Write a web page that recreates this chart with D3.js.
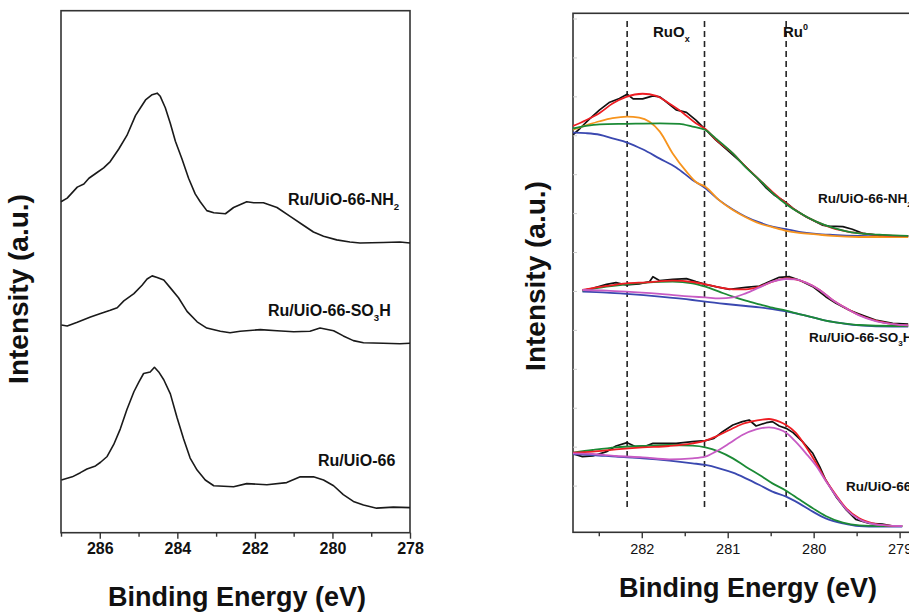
<!DOCTYPE html>
<html><head><meta charset="utf-8">
<script src="https://cdn.jsdelivr.net/npm/d3@7"></script>
<style>
html,body{margin:0;padding:0;background:#fff;}
svg{display:block;font-family:"Liberation Sans",Arial,Helvetica,sans-serif;}
</style></head>
<body>
<svg id="chart" width="909" height="614"></svg>
<script>
// ---------------- DATA ----------------
// Left panel: survey region (Binding energy eV, intensity a.u.)
const leftTicks = [286, 284, 282, 280, 278];
const leftMinor = [287, 285, 283, 281, 279];
const leftNH2 = [[287.0,63.4],[286.84,64.1],[286.58,66.2],[286.41,66.8],[286.28,67.9],[286.07,69.0],[285.90,69.9],[285.73,71.1],[285.51,73.5],[285.30,76.1],[285.08,79.9],[284.95,81.4],[284.82,82.9],[284.65,83.9],[284.52,84.2],[284.44,83.6],[284.31,81.4],[284.18,78.4],[284.05,75.0],[283.88,71.6],[283.71,67.9],[283.54,64.9],[283.41,63.4],[283.24,61.7],[283.06,61.3],[282.76,61.1],[282.55,62.3],[282.21,63.4],[282.03,63.2],[281.78,63.2],[281.43,62.3],[281.09,60.6],[280.75,58.9],[280.49,57.6],[280.23,56.8],[279.89,56.1],[279.55,55.7],[279.29,55.5],[278.69,55.6],[278.26,55.7],[278.0,55.5]];
const leftSO3H = [[286.99,39.8],[286.84,39.6],[286.58,40.3],[286.24,41.3],[285.98,42.0],[285.73,42.6],[285.55,43.1],[285.38,44.4],[285.12,45.8],[284.91,47.4],[284.78,48.6],[284.65,49.2],[284.52,48.9],[284.35,48.4],[284.18,46.9],[283.97,45.0],[283.75,42.4],[283.49,40.4],[283.24,39.2],[282.89,38.6],[282.64,38.3],[282.38,38.6],[281.86,38.9],[281.43,38.7],[281.00,38.5],[280.58,38.6],[280.32,39.2],[279.97,38.7],[279.72,37.7],[279.46,36.8],[279.20,36.4],[278.69,36.3],[278.26,36.2],[278.0,36.3]];
const leftUiO = [[286.99,10.1],[286.71,10.7],[286.50,11.5],[286.33,12.2],[286.11,12.8],[285.98,13.5],[285.81,14.6],[285.64,16.9],[285.47,19.9],[285.30,23.6],[285.12,27.0],[284.99,28.9],[284.87,30.5],[284.70,30.8],[284.59,31.7],[284.48,30.8],[284.35,29.3],[284.18,26.6],[284.01,22.1],[283.84,18.0],[283.67,14.3],[283.49,12.0],[283.28,10.1],[283.06,9.0],[282.55,8.8],[282.21,9.4],[281.69,9.2],[281.18,9.6],[280.83,10.7],[280.49,10.7],[280.23,10.1],[279.97,9.0],[279.72,7.3],[279.46,6.0],[279.20,5.3],[278.86,4.7],[278.43,4.9],[278.0,4.8]];

// Right panel: Ru 3d5/2 deconvolution
const rightTicks = [282, 281, 280, 279];
const rightMinor = [282.5, 281.5, 280.5, 279.5];
const refLines = [282.17, 281.27, 280.32];
const refLineSpan = [4.5, 98.5];

const nh2Raw = [[282.80,76.6],[282.72,77.8],[282.61,79.6],[282.49,81.4],[282.38,82.8],[282.26,83.6],[282.17,84.4],[282.10,83.5],[281.99,83.5],[281.87,84.1],[281.79,83.9],[281.72,83.0],[281.60,81.4],[281.48,80.9],[281.37,79.4],[281.27,77.8],[281.14,75.6],[280.98,73.3],[280.83,71.1],[280.67,68.5],[280.55,66.3],[280.46,65.0],[280.36,64.0],[280.32,63.5],[280.24,62.4],[280.09,60.8],[279.90,59.2],[279.82,59.0],[279.66,58.9],[279.55,58.4],[279.43,57.6],[279.28,57.3],[279.08,57.1],[278.90,57.1]];
const nh2Env = [[282.80,78.3],[282.65,79.4],[282.49,80.8],[282.34,82.6],[282.18,83.9],[281.99,84.5],[281.83,84.1],[281.68,82.6],[281.52,80.8],[281.37,78.8],[281.26,77.7],[281.14,75.7],[280.94,73.0],[280.79,70.4],[280.63,67.9],[280.48,65.6],[280.32,63.4],[280.17,61.6],[279.97,59.85],[279.78,58.6],[279.59,57.9],[279.39,57.5],[279.20,57.2],[278.90,57.1]];
const nh2Green = [[282.80,77.8],[282.65,78.3],[282.49,78.6],[282.18,78.7],[281.79,78.8],[281.56,78.7],[281.41,78.15],[281.26,77.5],[281.14,75.9],[280.94,73.0],[280.79,70.3],[280.63,67.9],[280.48,65.4],[280.32,63.2],[280.17,61.6],[279.97,59.85],[279.78,58.7],[279.59,57.9],[279.39,57.5],[279.20,57.3],[278.90,57.1]];
const nh2Orange = [[282.80,77.6],[282.65,78.4],[282.49,79.2],[282.34,79.8],[282.17,80.1],[282.03,79.9],[281.91,79.1],[281.79,77.2],[281.64,73.0],[281.48,69.5],[281.37,67.5],[281.26,66.6],[281.10,64.0],[280.94,62.1],[280.79,60.7],[280.63,59.5],[280.48,58.8],[280.32,58.1],[280.17,57.7],[279.97,57.4],[279.78,57.1],[279.47,56.9],[278.90,56.9]];
const nh2Blue = [[282.80,77.0],[282.65,76.9],[282.49,76.6],[282.34,75.9],[282.17,75.1],[281.99,73.8],[281.79,72.0],[281.60,70.3],[281.41,67.9],[281.26,66.3],[281.10,64.0],[280.94,62.2],[280.79,60.8],[280.63,59.7],[280.48,58.9],[280.32,58.4],[280.17,57.9],[279.97,57.5],[279.78,57.3],[279.47,57.1],[278.90,57.0]];

const so3hRaw = [[282.69,46.56],[282.57,47.01],[282.41,47.78],[282.30,48.10],[282.18,47.65],[282.03,47.84],[281.91,48.29],[281.87,49.25],[281.79,48.48],[281.64,48.74],[281.48,48.87],[281.37,48.29],[281.26,47.78],[281.14,47.33],[280.98,46.81],[280.79,47.20],[280.63,47.46],[280.52,48.29],[280.40,49.13],[280.28,49.25],[280.17,48.61],[280.01,47.33],[279.86,45.40],[279.74,44.12],[279.59,42.83],[279.47,42.06],[279.28,40.91],[279.08,40.26],[278.90,40.13]];
const so3hEnv = [[282.69,46.69],[282.41,47.46],[282.18,47.97],[281.95,48.16],[281.64,48.48],[281.41,48.23],[281.26,47.78],[281.10,47.20],[280.94,46.81],[280.79,46.81],[280.63,47.33],[280.48,48.29],[280.32,48.93],[280.21,48.74],[280.09,48.10],[279.93,46.69],[279.78,44.76],[279.62,43.15],[279.47,41.87],[279.28,40.78],[279.08,40.13],[278.90,39.88]];
const so3hGreen = [[282.69,46.56],[282.41,47.33],[282.18,47.78],[281.95,48.10],[281.64,48.29],[281.41,47.97],[281.26,47.33],[281.10,46.36],[280.94,45.40],[280.79,44.63],[280.63,43.92],[280.48,43.28],[280.32,42.70],[280.17,42.06],[280.01,41.42],[279.86,40.78],[279.66,40.26],[279.47,39.94],[279.08,39.75],[278.90,39.75]];
const so3hMagenta = [[282.69,46.69],[282.41,46.56],[282.18,46.36],[281.79,45.92],[281.41,45.40],[281.26,45.27],[281.10,45.08],[280.94,45.27],[280.79,46.04],[280.63,47.20],[280.48,48.29],[280.32,48.81],[280.21,48.74],[280.09,48.10],[279.93,46.69],[279.78,44.76],[279.62,43.15],[279.47,41.80],[279.28,40.71],[279.08,40.13],[278.90,39.88]];
const so3hBlue = [[282.69,46.36],[282.41,46.17],[282.18,45.92],[281.79,45.40],[281.41,44.76],[281.26,44.44],[281.02,43.99],[280.79,43.60],[280.63,43.35],[280.48,43.02],[280.32,42.58],[280.17,42.06],[280.01,41.42],[279.86,40.78],[279.66,40.26],[279.47,39.88],[279.08,39.62],[278.90,39.62]];

const uioRaw = [[282.80,15.09],[282.69,14.57],[282.57,14.70],[282.41,15.54],[282.30,16.63],[282.17,17.27],[282.07,16.50],[281.95,16.63],[281.87,17.14],[281.76,17.14],[281.60,17.14],[281.41,17.46],[281.26,17.66],[281.16,18.11],[281.06,19.39],[280.94,20.67],[280.83,21.32],[280.75,21.64],[280.67,20.48],[280.55,21.12],[280.48,21.32],[280.40,20.48],[280.32,20.03],[280.24,19.20],[280.13,17.46],[280.01,15.22],[279.93,12.65],[279.86,10.08],[279.74,6.87],[279.62,4.30],[279.51,2.50],[279.35,1.73],[279.20,1.60],[279.08,1.21],[278.97,1.21]];
const uioEnv = [[282.80,15.34],[282.57,15.54],[282.30,15.99],[281.99,16.37],[281.68,16.63],[281.41,17.14],[281.26,17.66],[281.14,18.43],[280.98,19.71],[280.83,20.87],[280.67,21.51],[280.52,21.83],[280.40,21.32],[280.32,20.67],[280.21,19.20],[280.09,16.50],[279.97,13.29],[279.86,10.08],[279.74,7.19],[279.62,4.62],[279.47,2.69],[279.31,1.73],[279.16,1.34],[278.97,1.21]];
const uioGreen = [[282.80,15.34],[282.57,15.86],[282.30,16.37],[281.99,16.63],[281.68,16.82],[281.41,16.69],[281.26,16.37],[281.10,15.54],[280.94,14.25],[280.79,12.65],[280.63,11.04],[280.48,9.43],[280.32,8.02],[280.17,6.35],[280.01,4.62],[279.86,3.14],[279.66,1.86],[279.47,1.34],[279.24,1.21],[278.97,1.21]];
const uioMagenta = [[282.80,15.22],[282.57,15.09],[282.30,14.70],[281.99,14.44],[281.68,14.06],[281.41,14.25],[281.26,14.57],[281.14,15.54],[280.98,17.14],[280.83,18.75],[280.67,19.84],[280.52,20.22],[280.40,19.84],[280.32,19.20],[280.21,17.46],[280.09,15.22],[279.97,12.77],[279.86,9.95],[279.74,6.99],[279.62,4.42],[279.47,2.50],[279.31,1.60],[279.16,1.34],[278.97,1.21]];
const uioBlue = [[282.80,15.09],[282.57,14.89],[282.30,14.57],[281.99,14.25],[281.68,13.80],[281.41,13.29],[281.26,12.97],[281.10,12.33],[280.94,11.49],[280.79,10.40],[280.63,9.11],[280.48,7.83],[280.32,6.87],[280.17,5.58],[280.01,3.98],[279.86,2.69],[279.66,1.73],[279.47,1.21],[279.24,1.08],[278.97,1.08]];

// ---------------- DRAW ----------------
const svg = d3.select("#chart");
const FONT = '"Liberation Sans",Arial,Helvetica,sans-serif';
const COL = {raw:"#111", env:"#ee1d23", green:"#1b8a35", orange:"#f7941d", blue:"#3a48b0", magenta:"#c75bc4"};

// Left panel scales
const L = {x0:61, x1:410, y0:10.7, y1:532.7};
const xL = d3.scaleLinear().domain([287, 278]).range([L.x0, L.x1]);
const yL = d3.scaleLinear().domain([0, 100]).range([L.y1, L.y0]);
// Right panel scales
const R = {x0:573, x1:912.5, y0:13.3, y1:532.3};
const xR = d3.scaleLinear().domain([282.8, 278.85]).range([R.x0, R.x1]);
const yR = d3.scaleLinear().domain([0, 100]).range([R.y1, R.y0]);

function frame(P){
  svg.append("rect").attr("x",P.x0).attr("y",P.y0).attr("width",P.x1-P.x0).attr("height",P.y1-P.y0)
    .attr("fill","none").attr("stroke","#333").attr("stroke-width",1.6);
}
frame(L); frame(R);

// Left axis ticks
const gL = svg.append("g").attr("transform",`translate(0,${L.y1})`);
gL.call(d3.axisBottom(xL).tickValues(leftTicks).tickSize(6).tickSizeOuter(0).tickPadding(4).tickFormat(d3.format("d")));
const gLm = svg.append("g").attr("transform",`translate(0,${L.y1})`);
gLm.call(d3.axisBottom(xL).tickValues(leftMinor).tickSize(4).tickSizeOuter(0).tickFormat(""));
[gL,gLm].forEach(g=>{g.select(".domain").remove(); g.selectAll("line").attr("stroke","#333").attr("stroke-width",1.4);});
gL.selectAll("text").attr("font-family",FONT).attr("font-weight","bold").attr("font-size",16).attr("fill","#111").attr("dy","0.71em");

// Right axis ticks
const gR = svg.append("g").attr("transform",`translate(0,${R.y1})`);
gR.call(d3.axisBottom(xR).tickValues(rightTicks).tickSize(6).tickSizeOuter(0).tickPadding(5).tickFormat(d3.format("d")));
const gRm = svg.append("g").attr("transform",`translate(0,${R.y1})`);
gRm.call(d3.axisBottom(xR).tickValues(rightMinor).tickSize(4).tickSizeOuter(0).tickFormat(""));
[gR,gRm].forEach(g=>{g.select(".domain").remove(); g.selectAll("line").attr("stroke","#333").attr("stroke-width",1.4);});
gR.selectAll("text").attr("font-family",FONT).attr("font-size",14.5).attr("fill","#111").attr("dy","0.71em");

// faint y ticks on right panel
const gRy = svg.append("g").attr("transform",`translate(${R.x0},0)`);
gRy.call(d3.axisRight(yR).tickValues(d3.range(9,100,7.5)).tickSize(4).tickFormat(""));
gRy.select(".domain").remove();
gRy.selectAll("line").attr("stroke","#ccc").attr("stroke-width",1);

// Curves
const lineL = d3.line().x(d=>xL(d[0])).y(d=>yL(d[1]));
const lineRraw = d3.line().x(d=>xR(d[0])).y(d=>yR(d[1]));
const lineRfit = d3.line().x(d=>xR(d[0])).y(d=>yR(d[1])).curve(d3.curveMonotoneX);

[leftNH2, leftSO3H, leftUiO].forEach(s=>{
  svg.append("path").datum(s).attr("d",lineL).attr("fill","none").attr("stroke","#1a1a1a").attr("stroke-width",1.6).attr("stroke-linejoin","round");
});

const clip = svg.append("clipPath").attr("id","clipR").append("rect")
  .attr("x",R.x0).attr("y",R.y0).attr("width",R.x1-R.x0).attr("height",R.y1-R.y0);
const gC = svg.append("g").attr("clip-path","url(#clipR)");

// dashed reference lines
refLines.forEach(e=>{
  gC.append("line").attr("x1",xR(e)).attr("x2",xR(e)).attr("y1",yR(refLineSpan[1])).attr("y2",yR(refLineSpan[0]))
    .attr("stroke","#222").attr("stroke-width",1.6).attr("stroke-dasharray","6,4");
});

function drawSet(set){
  set.forEach(([data,color,raw])=>{
    gC.append("path").datum(data).attr("d", raw?lineRraw:lineRfit).attr("fill","none")
      .attr("stroke",color).attr("stroke-width",raw?1.7:1.8).attr("stroke-linejoin","round");
  });
}
drawSet([[nh2Raw,COL.raw,true],[nh2Blue,COL.blue],[nh2Orange,COL.orange],[nh2Env,COL.env],[nh2Green,COL.green]]);
drawSet([[so3hRaw,COL.raw,true],[so3hBlue,COL.blue],[so3hGreen,COL.green],[so3hEnv,COL.env],[so3hMagenta,COL.magenta]]);
drawSet([[uioRaw,COL.raw,true],[uioBlue,COL.blue],[uioGreen,COL.green],[uioEnv,COL.env],[uioMagenta,COL.magenta]]);

// Labels with sub/superscripts
function label(x,y,size,parts,anchor){
  const t = svg.append("text").attr("x",x).attr("y",y).attr("font-family",FONT).attr("font-weight","bold")
    .attr("font-size",size).attr("fill","#111").attr("text-anchor",anchor||"start");
  parts.forEach(p=>{
    const ts = t.append("tspan").text(p.t);
    if(p.sub){ ts.attr("font-size",size*0.6).attr("dy",size*0.3); }
    if(p.sup){ ts.attr("font-size",size*0.6).attr("dy",-size*0.45); }
    if(p.back){ ts.attr("dy",p.back); }
  });
  return t;
}
const S = 16;
label(288,205,S,[{t:"Ru/UiO-66-NH"},{t:"2",sub:true}]);
label(268,316,S,[{t:"Ru/UiO-66-SO"},{t:"3",sub:true},{t:"H",back:-S*0.3}]);
label(318,466,S,[{t:"Ru/UiO-66"}]);

const S2 = 13.5;
label(818,203,S2,[{t:"Ru/UiO-66-NH"},{t:"2",sub:true}]);
label(809,342,S2,[{t:"Ru/UiO-66-SO"},{t:"3",sub:true},{t:"H",back:-S2*0.3}]);
label(846,491,S2,[{t:"Ru/UiO-66"}]);

label(653,37,15,[{t:"RuO"},{t:"x",sub:true}]);
label(783,37,15,[{t:"Ru"},{t:"0",sup:true}]);

// Axis titles
svg.append("text").attr("x",237).attr("y",606).attr("text-anchor","middle").attr("font-family",FONT)
  .attr("font-weight","bold").attr("font-size",27).attr("fill","#111").text("Binding Energy (eV)");
svg.append("text").attr("x",748).attr("y",597).attr("text-anchor","middle").attr("font-family",FONT)
  .attr("font-weight","bold").attr("font-size",27).attr("fill","#111").text("Binding Energy (eV)");
svg.append("text").attr("transform","translate(28,289) rotate(-90)").attr("text-anchor","middle").attr("font-family",FONT)
  .attr("font-weight","bold").attr("font-size",28).attr("fill","#111").text("Intensity (a.u.)");
svg.append("text").attr("transform","translate(545,276) rotate(-90)").attr("text-anchor","middle").attr("font-family",FONT)
  .attr("font-weight","bold").attr("font-size",28).attr("fill","#111").text("Intensity (a.u.)");
</script>
</body></html>
